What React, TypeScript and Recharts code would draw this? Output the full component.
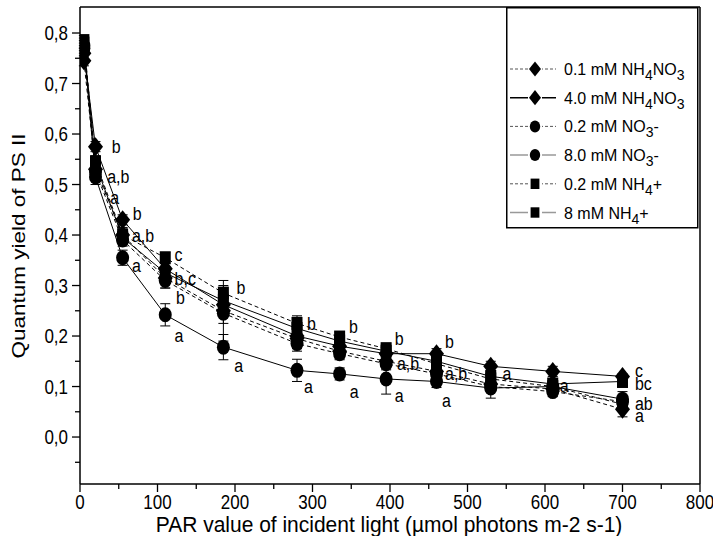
import React from "react";
import {
  ComposedChart,
  Line,
  Scatter,
  XAxis,
  YAxis,
  ErrorBar,
  ReferenceLine,
} from "recharts";

// PAR levels (µmol photons m-2 s-1)
const parValues = [5, 20, 55, 110, 185, 280, 335, 395, 460, 530, 610, 700];

// quantum yield of PS II per treatment
const nh4no3Low = [0.745, 0.53, 0.4, 0.315, 0.25, 0.195, 0.17, 0.15, 0.13, 0.105, 0.095, 0.055];
const nh4no3High = [0.76, 0.575, 0.43, 0.333, 0.262, 0.2, 0.18, 0.165, 0.165, 0.14, 0.13, 0.12];
const no3Low = [0.77, 0.525, 0.39, 0.31, 0.245, 0.185, 0.165, 0.145, 0.125, 0.1, 0.09, 0.07];
const no3High = [0.775, 0.515, 0.355, 0.242, 0.178, 0.132, 0.125, 0.115, 0.11, 0.097, 0.1, 0.075];
const nh4Low = [0.785, 0.545, 0.4, 0.355, 0.285, 0.225, 0.198, 0.175, 0.145, 0.115, 0.1, 0.065];
const nh4High = [0.78, 0.54, 0.395, 0.325, 0.27, 0.215, 0.19, 0.17, 0.15, 0.12, 0.105, 0.11];

// standard errors
const nh4no3LowErr = [0.01, 0.015, 0.015, 0.02, 0.06, 0.02, 0.015, 0.015, 0.015, 0.01, 0.01, 0.015];
const nh4no3HighErr = [0.01, 0.01, 0.01, 0.015, 0.02, 0.015, 0.01, 0.01, 0.01, 0.01, 0.01, 0.005];
const no3LowErr = [0.01, 0.012, 0.012, 0.015, 0.02, 0.015, 0.012, 0.012, 0.012, 0.01, 0.01, 0.01];
const no3HighErr = [0.01, 0.015, 0.015, 0.022, 0.025, 0.022, 0.012, 0.03, 0.012, 0.02, 0.015, 0.015];
const nh4LowErr = [0.01, 0.012, 0.012, 0.01, 0.015, 0.015, 0.01, 0.01, 0.01, 0.01, 0.01, 0.01];
const nh4HighErr = [0.01, 0.01, 0.01, 0.01, 0.015, 0.015, 0.01, 0.01, 0.01, 0.01, 0.01, 0.01];

// significance letters: x, y (data units), text
const letterX = [41, 35, 39, 68, 67, 67, 122, 122, 124, 122, 202, 199, 293, 289, 347, 348, 406, 409, 406, 471, 471, 467, 545, 619, 716, 716, 716, 716];
const letterY = [0.572, 0.513, 0.472, 0.44, 0.396, 0.337, 0.358, 0.311, 0.274, 0.198, 0.293, 0.139, 0.222, 0.097, 0.216, 0.087, 0.192, 0.143, 0.079, 0.186, 0.123, 0.069, 0.123, 0.099, 0.129, 0.103, 0.064, 0.039];
const letterText = ["b", "a,b", "a", "b", "a,b", "a", "c", "b,c", "b", "a", "b", "a", "b", "a", "b", "a", "b", "a,b", "a", "b", "a,b", "a", "a", "a", "c", "bc", "ab", "a"];

const xTicks = [0, 50, 100, 150, 200, 250, 300, 350, 400, 450, 500, 550, 600, 650, 700, 750, 800];
const yTicks = [-0.05, 0, 0.05, 0.1, 0.15, 0.2, 0.25, 0.3, 0.35, 0.4, 0.45, 0.5, 0.55, 0.6, 0.65, 0.7, 0.75, 0.8];

type Part = [string, boolean];

const series = [
  { key: "s1", values: nh4no3Low, errors: nh4no3LowErr, marker: "diamond", dashed: true, legendStroke: "#555",
    label: [["0.1 mM NH", false], ["4", true], ["NO", false], ["3", true]] as Part[] },
  { key: "s2", values: nh4no3High, errors: nh4no3HighErr, marker: "diamond", dashed: false, legendStroke: "#000",
    label: [["4.0 mM NH", false], ["4", true], ["NO", false], ["3", true]] as Part[] },
  { key: "s3", values: no3Low, errors: no3LowErr, marker: "circle", dashed: true, legendStroke: "#555",
    label: [["0.2 mM NO", false], ["3", true], ["-", false]] as Part[] },
  { key: "s4", values: no3High, errors: no3HighErr, marker: "circle", dashed: false, legendStroke: "#999",
    label: [["8.0 mM NO", false], ["3", true], ["-", false]] as Part[] },
  { key: "s5", values: nh4Low, errors: nh4LowErr, marker: "square", dashed: true, legendStroke: "#555",
    label: [["0.2 mM NH", false], ["4", true], ["+", false]] as Part[] },
  { key: "s6", values: nh4High, errors: nh4HighErr, marker: "square", dashed: false, legendStroke: "#999",
    label: [["8 mM NH", false], ["4", true], ["+", false]] as Part[] },
];

const tableData = parValues.map((x, i) => {
  const row: Record<string, number> = { x };
  series.forEach((s) => {
    row[s.key] = s.values[i];
    row[s.key + "e"] = s.errors[i];
  });
  return row;
});

const letters = letterX.map((x, i) => ({ x, y: letterY[i], t: letterText[i] }));

const FONT = "'Liberation Sans', Arial, Helvetica, sans-serif";
const STRETCH = 1.15;

const Marker = ({ kind, cx, cy, scale = 1 }: { kind: string; cx: number; cy: number; scale?: number }) => {
  if (kind === "diamond") {
    const w = 7.5 * scale;
    const h = 9.5 * scale;
    return <polygon points={`${cx},${cy - h} ${cx + w},${cy} ${cx},${cy + h} ${cx - w},${cy}`} fill="#000" />;
  }
  if (kind === "circle") {
    return <ellipse cx={cx} cy={cy} rx={6.5 * scale} ry={7.5 * scale} fill="#000" />;
  }
  return <rect x={cx - 5.5 * scale} y={cy - 6.5 * scale} width={11 * scale} height={13 * scale} fill="#000" />;
};

const XTick = (props: any) => {
  const { x, y, payload } = props;
  const v = payload.value;
  const major = v % 100 === 0;
  return (
    <g>
      <line x1={x} x2={x} y1={y} y2={y + (major ? 8 : 5)} stroke="#000" strokeWidth={1.3} />
      {major && (
        <text transform={`translate(${x},${y + 25}) scale(1,${STRETCH})`} textAnchor="middle" fontSize={17} fontFamily={FONT} fill="#000">
          {v}
        </text>
      )}
    </g>
  );
};

const YTick = (props: any) => {
  const { x, y, payload } = props;
  const v = payload.value;
  const major = Math.abs(v * 10 - Math.round(v * 10)) < 1e-6;
  return (
    <g>
      <line x1={x - (major ? 8 : 5)} x2={x} y1={y} y2={y} stroke="#000" strokeWidth={1.3} />
      {major && (
        <text transform={`translate(${x - 12},${y + 7}) scale(1,${STRETCH})`} textAnchor="end" fontSize={17} fontFamily={FONT} fill="#000">
          {v.toFixed(1).replace(".", ",")}
        </text>
      )}
    </g>
  );
};

const LetterShape = (props: any) => {
  const { cx, cy, payload } = props;
  return (
    <text transform={`translate(${cx},${cy + 5}) scale(1,1.1)`} fontSize={16} fontFamily={FONT} fill="#000">
      {payload.t}
    </text>
  );
};

const Legend = () => (
  <svg width={193} height={222} style={{ position: "absolute", left: 506, top: 7 }}>
    <rect x={0.75} y={0.75} width={191} height={220} fill="#fff" stroke="#000" strokeWidth={1.5} />
    {series.map((s, i) => {
      const cy = 62 + i * 28.7;
      return (
        <g key={s.key}>
          <line x1={4} x2={50} y1={cy} y2={cy} stroke={s.legendStroke} strokeWidth={s.dashed ? 1 : 1.5}
            strokeDasharray={s.dashed ? "3 2" : undefined} />
          <rect x={22} y={cy - 9} width={14} height={18} fill="#fff" />
          <Marker kind={s.marker} cx={29} cy={cy} scale={0.8} />
          <text x={58} y={cy + 6} fontSize={16} fontFamily={FONT} fill="#000">
            {s.label.map(([t, sub], j) => (
              <tspan key={j} dy={sub ? 5 : j > 0 && s.label[j - 1][1] ? -5 : 0} fontSize={sub ? 14 : 16}>
                {t}
              </tspan>
            ))}
          </text>
        </g>
      );
    })}
  </svg>
);

export default function App() {
  return (
    <div style={{ position: "absolute", left: 0, top: 0, width: 713, height: 536, background: "#fff" }}>
      <ComposedChart width={713} height={536} data={tableData} margin={{ top: 7, right: 13, left: 0, bottom: 0 }}>
        <XAxis
          dataKey="x"
          type="number"
          domain={[0, 800]}
          ticks={xTicks}
          interval={0}
          height={52}
          tickSize={0}
          tickMargin={0}
          tick={<XTick />}
          axisLine={{ stroke: "#000", strokeWidth: 1.5 }}
          allowDataOverflow
        />
        <YAxis
          type="number"
          domain={[-0.093, 0.8515]}
          ticks={yTicks}
          interval={0}
          width={80}
          tickSize={0}
          tickMargin={0}
          tick={<YTick />}
          axisLine={{ stroke: "#000", strokeWidth: 1.5 }}
          allowDataOverflow
        />
        <ReferenceLine y={0.8515} stroke="#000" strokeWidth={1.5} />
        <ReferenceLine x={800} stroke="#000" strokeWidth={1.5} />
        {series.map((s) => (
          <Line
            key={s.key}
            dataKey={s.key}
            stroke="#000"
            strokeWidth={1}
            strokeDasharray={s.dashed ? "4 3" : undefined}
            type="linear"
            isAnimationActive={false}
            dot={(p: any) => <Marker key={`${s.key}-${p.index}`} kind={s.marker} cx={p.cx} cy={p.cy} />}
            activeDot={false}
          >
            <ErrorBar dataKey={s.key + "e"} direction="y" width={5} stroke="#000" strokeWidth={1} />
          </Line>
        ))}
        <Scatter data={letters} dataKey="y" shape={<LetterShape />} isAnimationActive={false} />
        <text transform={`translate(389,532) scale(1,1.05)`} textAnchor="middle" fontSize={21} fontFamily={FONT} fill="#000">
          PAR value of incident light (µmol photons m-2 s-1)
        </text>
        <text transform={`translate(25,246) rotate(-90) scale(1.25,1)`} textAnchor="middle" fontSize={18} fontFamily={FONT} fill="#000">
          Quantum yield of PS II
        </text>
      </ComposedChart>
      <Legend />
    </div>
  );
}
